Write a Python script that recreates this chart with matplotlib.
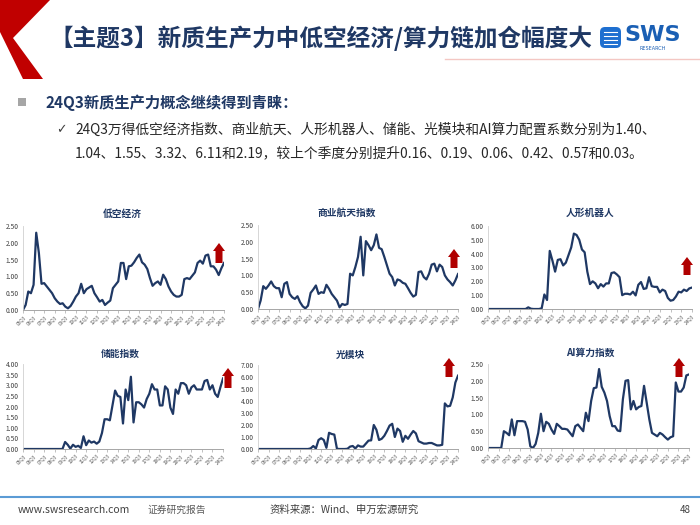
import matplotlib
matplotlib.use('Agg')
import matplotlib.pyplot as plt
from matplotlib.patches import Polygon, FancyBboxPatch, Rectangle
import numpy as np

plt.rcParams['font.family'] = ['Noto Sans CJK SC', 'DejaVu Sans']

# ---------------- data ----------------
tick_labels = ['05Q3', '06Q3', '07Q3', '08Q3', '09Q3', '10Q3', '11Q3', '12Q3', '13Q3', '14Q3',
               '15Q3', '16Q3', '17Q3', '18Q3', '19Q3', '20Q3', '21Q3', '22Q3', '23Q3', '24Q3']

chart_titles = ['低空经济', '商业航天指数', '人形机器人', '储能指数', '光模块', 'AI算力指数']

low_altitude = [0.0, 0.15, 0.55, 0.5, 0.75, 2.3, 1.7, 0.78, 0.8, 0.7,
                0.6, 0.5, 0.35, 0.25, 0.18, 0.2, 0.1, 0.05, 0.12, 0.25,
                0.4, 0.5, 0.78, 0.5, 0.62, 0.67, 0.72, 0.5, 0.38, 0.25,
                0.3, 0.15, 0.22, 0.28, 0.65, 0.75, 0.85, 1.4, 1.4, 0.92,
                1.3, 1.32, 1.42, 1.55, 1.65, 1.42, 1.35, 1.22, 0.95, 0.72,
                0.8, 0.85, 0.75, 1.05, 0.92, 0.7, 0.55, 0.45, 0.4, 0.4,
                0.45, 0.92, 0.95, 0.92, 1.02, 1.12, 1.4, 1.47, 1.38, 1.62,
                1.65, 1.3, 1.3, 1.2, 1.04, 1.24, 1.40]

aerospace = [0.0, 0.25, 0.68, 0.6, 0.7, 0.82, 0.68, 0.62, 0.62, 0.35,
             0.75, 0.8, 0.45, 0.35, 0.3, 0.38, 0.2, 0.08, 0.02, 0.1,
             0.48, 0.58, 0.7, 0.45, 0.5, 0.48, 0.72, 0.6, 0.45, 0.35,
             0.25, 0.05, 0.15, 0.12, 0.15, 1.05, 1.0, 1.25, 1.55, 2.15,
             1.0, 2.02, 1.9, 1.75, 1.9, 2.22, 1.82, 1.78, 1.55, 1.3,
             1.05, 0.95, 0.7, 0.88, 0.85, 0.78, 0.75, 0.62, 0.48, 0.37,
             0.42, 1.1, 1.12, 0.95, 0.88, 1.05, 1.32, 1.35, 1.12, 1.32,
             1.25, 1.0, 0.88, 0.8, 0.7, 0.85, 1.04]

humanoid = [0, 0, 0, 0, 0, 0, 0, 0, 0, 0,
            0, 0, 0, 0, 0, 0.12, 0.02, 0, 0, 0,
            0.05, 1.05, 0.65, 4.2, 3.5, 2.7, 3.55, 3.6, 3.15, 3.35,
            3.9, 4.45, 5.45, 5.35, 5.0, 4.3, 4.1, 2.7, 1.8, 2.0,
            1.85, 1.5, 1.8, 1.62, 1.85, 1.85, 2.6, 2.65, 2.5, 2.3,
            1.0, 1.1, 1.1, 1.05, 1.25, 0.98, 1.75, 1.95, 1.45, 1.5,
            2.3, 1.65, 1.6, 1.6, 1.2, 1.4, 1.3, 0.8, 0.6, 0.65,
            0.9, 1.25, 1.2, 1.4, 1.3, 1.49, 1.55]

storage = [0, 0, 0, 0, 0, 0, 0, 0, 0, 0,
           0, 0, 0, 0, 0, 0, 0.33, 0.2, 0.02, 0.2,
           0.1, 0.15, 0.05, 0.6, 0.18, 0.4, 0.3, 0.35, 0.25, 0.35,
           0.75, 1.4, 1.4, 1.35, 2.05, 2.75, 2.5, 2.45, 1.2, 2.8,
           2.3, 3.4, 1.25, 2.2, 2.2, 2.1, 1.95, 2.35, 2.6, 3.05,
           2.8, 2.8, 2.05, 2.05, 2.95, 2.8, 1.95, 1.65, 2.8, 2.6,
           3.1, 3.1, 3.0, 2.6, 2.9, 3.0, 2.8, 2.8, 2.8, 3.2,
           3.25, 2.8, 3.0, 2.6, 2.45, 2.9, 3.32]

optical = [0, 0, 0, 0, 0, 0, 0, 0, 0, 0,
           0, 0, 0, 0, 0, 0, 0, 0, 0, 0,
           0.05, 0.25, 0.05, 0.75, 0.9, 0.75, 0.1, 1.35, 1.25, 1.2,
           0.02, 0, 0, 0, 0.02, 0.2, 0.25, 0.05, 0.3, 0.2,
           0.2, 0.45, 0.7, 0.72, 2.0, 1.6, 0.75, 0.85, 1.1, 1.5,
           1.95, 2.1, 1.0, 1.7, 1.5, 0.6, 1.1, 0.85, 1.2, 1.5,
           1.3, 0.65, 0.55, 0.45, 0.45, 0.5, 0.5, 0.4, 0.3, 0.3,
           0.35, 3.8, 3.55, 3.6, 4.3, 5.54, 6.11]

ai_compute = [0, 0, 0, 0, 0, 0, 0.5, 0.45, 0.38, 0.85,
              0.38, 0.8, 0.8, 0.8, 0.78, 0.55, 0.05, 0.0, 0.12, 0.45,
              1.02, 0.5, 0.78, 0.72, 0.55, 0.42, 0.72, 0.65, 0.57, 0.57,
              0.55, 0.45, 0.35, 0.65, 0.7, 0.6, 0.5, 1.05, 0.8, 1.4,
              1.78, 1.8, 2.35, 1.82, 1.65, 1.4, 0.95, 0.65, 0.65, 0.52,
              0.5, 1.45, 2.0, 2.02, 1.15, 1.4, 1.15, 1.22, 1.25, 1.85,
              1.35, 0.85, 0.45, 0.4, 0.35, 0.45, 0.4, 0.32, 0.25, 0.32,
              0.35, 1.95, 1.68, 1.68, 1.8, 2.16, 2.19]

series = [low_altitude, aerospace, humanoid, storage, optical, ai_compute]
y_max = [2.5, 2.5, 6.0, 4.0, 7.0, 2.5]
y_step = [0.5, 0.5, 1.0, 0.5, 1.0, 0.5]

# ---------------- layout ----------------
W, H = 700, 525
fig = plt.figure(figsize=(7, 5.25), dpi=100)
fig.patch.set_facecolor('white')

bg = fig.add_axes([0, 0, 1, 1])
bg.set_xlim(0, W)
bg.set_ylim(H, 0)
bg.axis('off')

NAVY = '#1F3864'
DARKRED = '#B00000'

# red chevron
bg.add_patch(Polygon([(0, 0), (50, 0), (13, 38), (43, 79), (23, 79), (0, 32)],
                     closed=True, facecolor='#C00000', edgecolor='none'))

# title
bg.text(49, 38, '【主题3】新质生产力中低空经济/算力链加仓幅度大', fontsize=17, fontweight='bold',
        color=NAVY, va='center', ha='left')

# logo
bg.add_patch(FancyBboxPatch((600, 27), 21, 21, boxstyle='round,pad=0,rounding_size=5',
                            facecolor='#1E6FD0', edgecolor='none'))
for yy in (32, 36, 40, 44):
    bg.plot([604, 617], [yy, yy], color='white', lw=0.8)
bg.text(624, 35, 'SWS', fontsize=16, fontweight='bold', color='#1A5FB4', va='center', ha='left',
        family='DejaVu Sans')
bg.text(640, 48, 'RESEARCH', fontsize=3.5, color='#1A5FB4', va='center', ha='left', family='DejaVu Sans')

# faint line under header
bg.plot([445, 700], [59, 59], color='#F4C7C3', lw=1)

# bullet heading
bg.add_patch(Rectangle((18, 98), 8, 8, facecolor='#A6A6A6', edgecolor='none'))
bg.text(45, 103, '24Q3新质生产力概念继续得到青睐：', fontsize=11, fontweight='bold',
        color=NAVY, va='center', ha='left')
bg.text(56, 130, '✓', fontsize=9, color='#404040', va='center', ha='left', family='DejaVu Sans')
bg.text(75, 130, '24Q3万得低空经济指数、商业航天、人形机器人、储能、光模块和AI算力配置系数分别为1.40、',
        fontsize=9.9, color='#262626', va='center', ha='left')
bg.text(75, 153, '1.04、1.55、3.32、6.11和2.19，较上个季度分别提升0.16、0.19、0.06、0.42、0.57和0.03。',
        fontsize=9.9, color='#262626', va='center', ha='left')

# footer
bg.plot([0, 700], [497, 497], color='#5B9BD5', lw=1.5)
bg.text(18, 510, 'www.swsresearch.com', fontsize=7.5, color='#404040', va='center', ha='left')
bg.text(148, 510, '证券研究报告', fontsize=7, color='#595959', va='center', ha='left')
bg.text(270, 510, '资料来源：Wind、申万宏源研究', fontsize=7.5, color='#404040', va='center', ha='left')
bg.text(680, 510, '48', fontsize=7, color='#404040', va='center', ha='left')

# chart boxes: left, top, right, bottom (px)
boxes = [(23, 226, 224, 310), (258, 225, 458, 309), (488, 226, 692, 309),
         (23, 364, 223, 449), (258, 365, 458, 449), (488, 364, 689, 448)]
title_pos = [(122, 214), (347, 213), (590, 213), (120, 354), (350, 355), (590, 353)]
arrows = [(219, 243, 263), (454, 249, 268), (687, 257, 275),
          (228, 368, 388), (449, 358, 377), (679, 358, 377)]

for i, (l, t, r, b) in enumerate(boxes):
    ax = fig.add_axes([l / W, 1 - b / H, (r - l) / W, (b - t) / H])
    ax.set_facecolor('none')
    vals = series[i]
    x = np.arange(len(vals))
    ax.plot(x, vals, color=NAVY, lw=1.6, solid_joinstyle='round')
    ax.set_xlim(0, len(vals) - 1)
    ax.set_ylim(0, y_max[i])
    yt = np.arange(0, y_max[i] + 1e-9, y_step[i])
    ax.set_yticks(yt)
    ax.set_yticklabels([f'{v:.2f}' for v in yt])
    ax.set_xticks(np.arange(0, len(vals), 4))
    ax.set_xticklabels(tick_labels, rotation=45, ha='right', rotation_mode='anchor')
    for s in ('top', 'right'):
        ax.spines[s].set_visible(False)
    ax.spines['left'].set_color('#D0D0D0')
    ax.spines['left'].set_linewidth(0.6)
    ax.spines['bottom'].set_color('#A6A6A6')
    ax.spines['bottom'].set_linewidth(0.7)
    ax.tick_params(axis='y', length=0, labelsize=4.8, labelcolor='#404040', pad=3)
    ax.tick_params(axis='x', length=2, width=0.5, color='#A6A6A6', labelsize=3.4,
                   labelcolor='#595959', pad=1)
    tx, ty = title_pos[i]
    bg.text(tx, ty, chart_titles[i], fontsize=7, fontweight='bold', color=NAVY,
            ha='center', va='center')
    cx, ytip, ybase = arrows[i]
    hl = 8
    bg.add_patch(Polygon([(cx - 3.5, ybase), (cx - 3.5, ytip + hl), (cx - 6, ytip + hl), (cx, ytip),
                          (cx + 6, ytip + hl), (cx + 3.5, ytip + hl), (cx + 3.5, ybase)],
                         closed=True, facecolor=DARKRED, edgecolor='none', zorder=5))

fig.savefig('out.png', dpi=100, facecolor='white')
